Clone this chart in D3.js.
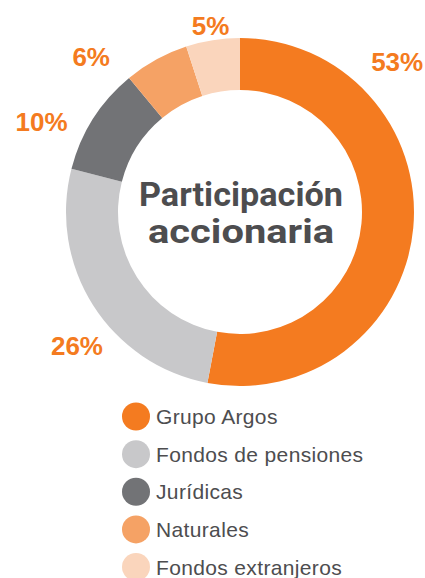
<!DOCTYPE html>
<html>
<head>
<meta charset="utf-8">
<script src="https://cdn.jsdelivr.net/npm/d3@7"></script>
<style>
  body { margin: 0; background: #fff; }
  svg { display: block; }
</style>
</head>
<body>
<svg id="chart" width="425" height="578"></svg>
<script>
// datos de participación accionaria
const categories = ["Grupo Argos", "Fondos de pensiones", "Jurídicas", "Naturales", "Fondos extranjeros"];
const shares = [53, 26, 10, 6, 5];
const colors = ["#f47b20", "#c8c8ca", "#727376", "#f5a265", "#fad5bc"];
const titleLines = ["Participación", "accionaria"];
// ajuste de cada etiqueta: giro (grados) respecto al centro del segmento y radio
const labelShift = [-49, -7, -8, -15, 0];
const labelRadius = [217, 211, 218, 215, 188];

const svg = d3.select("#chart");
const cx = 240, cy = 212;
const outerR = 174, innerR = 122;

const data = categories.map((c, i) => ({
  name: c, value: shares[i], color: colors[i], shift: labelShift[i], r: labelRadius[i]
}));

const pie = d3.pie().sort(null).value(d => d.value);
const arcs = pie(data);

const arc = d3.arc().innerRadius(innerR).outerRadius(outerR);

const g = svg.append("g").attr("transform", `translate(${cx},${cy})`);

g.selectAll("path.slice")
  .data(arcs)
  .join("path")
  .attr("class", "slice")
  .attr("d", arc)
  .attr("fill", d => d.data.color);

// etiquetas de porcentaje
g.selectAll("text.pct")
  .data(arcs)
  .join("text")
  .attr("class", "pct")
  .attr("transform", d => {
    const a = (d.startAngle + d.endAngle) / 2 + d.data.shift * Math.PI / 180;
    const [x, y] = d3.arc().innerRadius(d.data.r).outerRadius(d.data.r).centroid({ startAngle: a, endAngle: a });
    return `translate(${x},${y})`;
  })
  .attr("text-anchor", "middle")
  .attr("dominant-baseline", "central")
  .attr("font-family", "'Liberation Sans', Arial, sans-serif")
  .attr("font-weight", "bold")
  .attr("font-size", 26)
  .attr("fill", "#f47b20")
  .text(d => d.data.value + "%");

// título central
const titleWidths = [204, 186];
g.selectAll("text.title")
  .data(titleLines)
  .join("text")
  .attr("class", "title")
  .attr("x", 1)
  .attr("y", (d, i) => -6 + i * 37)
  .attr("text-anchor", "middle")
  .attr("font-family", "Roboto, 'DejaVu Sans', sans-serif")
  .attr("font-weight", "bold")
  .attr("font-size", 34)
  .attr("fill", "#4d4d4f")
  .attr("textLength", (d, i) => titleWidths[i])
  .attr("lengthAdjust", "spacingAndGlyphs")
  .text(d => d);

// leyenda
const legendY = d3.scalePoint().domain(categories).range([416.5, 567]);
const legend = svg.append("g");
const rows = legend.selectAll("g.row")
  .data(data)
  .join("g")
  .attr("class", "row")
  .attr("transform", d => `translate(136,${legendY(d.name)})`);

rows.append("circle")
  .attr("r", 14)
  .attr("fill", d => d.color);

rows.append("text")
  .attr("x", 20)
  .attr("y", 0)
  .attr("dominant-baseline", "central")
  .attr("font-family", "'Liberation Sans', Arial, sans-serif")
  .attr("font-size", 21)
  .attr("letter-spacing", 0.35)
  .attr("fill", "#4d4d4f")
  .text(d => d.name);
</script>
</body>
</html>
